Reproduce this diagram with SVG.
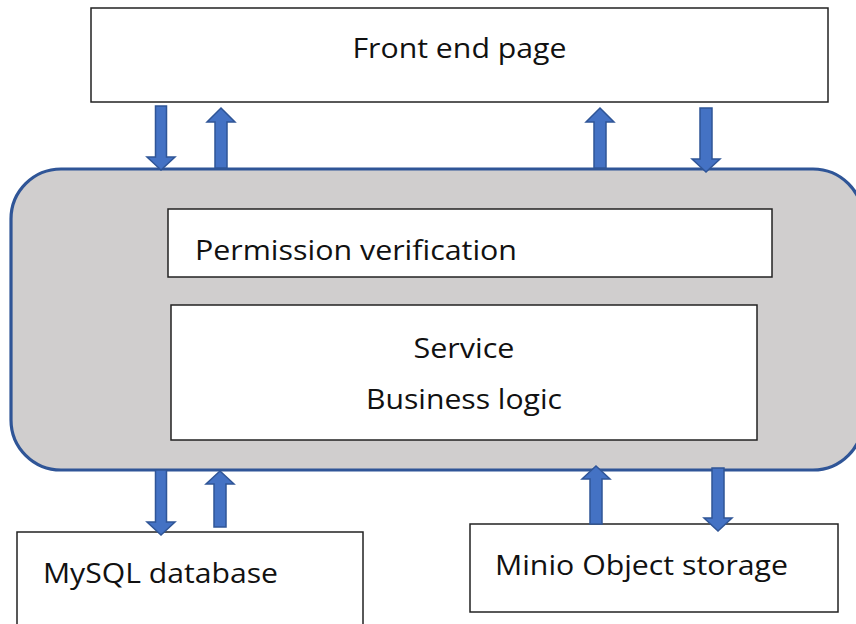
<svg xmlns="http://www.w3.org/2000/svg" width="856" height="624" viewBox="0 0 856 624">
<style>
.box{fill:#fff;stroke:#222;stroke-width:1.5}
.core{fill:#D0CECE;stroke:#2F5597;stroke-width:3.2}
.t{font-family:"Open Sans","Liberation Sans",sans-serif;font-size:28px;fill:#111}
.arr{fill:#4472C4;stroke:#2F5597;stroke-width:1.5;stroke-linejoin:miter}
</style>
<rect width="856" height="624" fill="#fff"/>
<g id="frontend">
<rect class="box" x="91" y="8" width="737" height="94"/>
<text class="t" x="459.5" y="58" text-anchor="middle" textLength="214" lengthAdjust="spacingAndGlyphs">Front end page</text>
</g>
<g id="backend">
<rect class="core" x="11" y="169" width="852" height="301" rx="50" ry="50"/>
</g>
<g id="permission">
<rect class="box" x="168" y="209" width="604" height="68"/>
<text class="t" x="195" y="260" textLength="322" lengthAdjust="spacingAndGlyphs">Permission verification</text>
</g>
<g id="service">
<rect class="box" x="171" y="305" width="586" height="135"/>
<text class="t" x="464" y="358" text-anchor="middle" textLength="101" lengthAdjust="spacingAndGlyphs">Service</text>
<text class="t" x="464" y="409" text-anchor="middle" textLength="196" lengthAdjust="spacingAndGlyphs">Business logic</text>
</g>
<g id="mysql">
<rect class="box" x="17" y="532" width="346" height="100"/>
<text class="t" x="43" y="583" textLength="235" lengthAdjust="spacingAndGlyphs">MySQL database</text>
</g>
<g id="minio">
<rect class="box" x="470" y="524" width="368" height="88"/>
<text class="t" x="495" y="575" textLength="293" lengthAdjust="spacingAndGlyphs">Minio Object storage</text>
</g>
<g id="connectors">
<polygon class="arr" points="155.5,106 166.5,106 166.5,157 175,157 161,170 147,157 155.5,157"/>
<polygon class="arr" points="221,108 235,122 227,122 227,168 215,168 215,122 207,122"/>
<polygon class="arr" points="600,108 614,122 606,122 606,168 594,168 594,122 586,122"/>
<polygon class="arr" points="700,108 712,108 712,159 720,159 706,172 692,159 700,159"/>
<polygon class="arr" points="155.5,470 166.5,470 166.5,522 175,522 161,535 147,522 155.5,522"/>
<polygon class="arr" points="220,471 234,484 226,484 226,527 214,527 214,484 206,484"/>
<polygon class="arr" points="596,466 610,479 602,479 602,524 590,524 590,479 582,479"/>
<polygon class="arr" points="712,468 724,468 724,518 732,518 718,531 704,518 712,518"/>
</g>
</svg>
